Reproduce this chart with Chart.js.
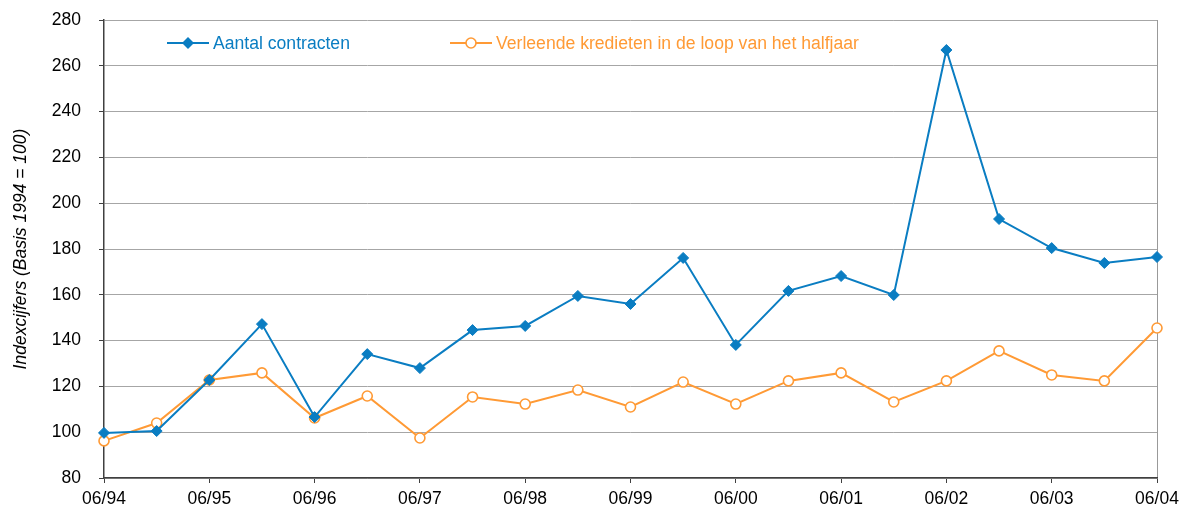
<!DOCTYPE html>
<html>
<head>
<meta charset="utf-8">
<script src="https://cdn.jsdelivr.net/npm/chart.js@4/dist/chart.umd.min.js"></script>
<style>
html,body{margin:0;padding:0;background:#fff;}
#wrap{width:1179px;height:513px;position:relative;}
</style>
</head>
<body>
<div id="wrap"><canvas id="c" width="1179" height="513"></canvas></div>
<script>
const categories = ["06/94","12/94","06/95","12/95","06/96","12/96","06/97","12/97","06/98","12/98","06/99","12/99","06/00","12/00","06/01","12/01","06/02","12/02","06/03","12/03","06/04"];
const contracten = [99.7,100.5,122.8,147.2,106.6,134.1,128.0,144.6,146.4,159.5,156.0,176.1,138.1,161.7,168.2,159.9,266.9,193.1,180.4,173.9,176.5];
const kredieten = [96.2,104.0,122.8,125.9,106.2,115.8,97.5,115.4,112.3,118.4,111.0,121.9,112.3,122.4,125.9,113.2,122.4,135.5,125.0,122.4,145.5];
const seriesNames = ["Aantal contracten","Verleende kredieten in de loop van het halfjaar"];
const yTitle = "Indexcijfers (Basis 1994 = 100)";

const BLUE = '#0A7DC2';
const ORANGE = '#FF9A35';
const FONT = '"Liberation Sans", Arial, sans-serif';

const legendPlugin = {
  id: 'customLegend',
  afterDraw(chart) {
    const ctx = chart.ctx;
    const items = [
      {x: 167, ds: chart.data.datasets[0]},
      {x: 450, ds: chart.data.datasets[1]}
    ];
    const y = 43;
    ctx.save();
    items.forEach(it => {
      const ds = it.ds;
      ctx.strokeStyle = ds.borderColor;
      ctx.lineWidth = 2;
      ctx.beginPath();
      ctx.moveTo(it.x, y);
      ctx.lineTo(it.x + 42, y);
      ctx.stroke();
      const cx = it.x + 21;
      if (ds.pointStyle === 'rectRot') {
        ctx.fillStyle = ds.borderColor;
        ctx.beginPath();
        ctx.moveTo(cx, y - 6); ctx.lineTo(cx + 6, y); ctx.lineTo(cx, y + 6); ctx.lineTo(cx - 6, y);
        ctx.closePath(); ctx.fill();
      } else {
        ctx.fillStyle = '#fff';
        ctx.lineWidth = 1.6;
        ctx.beginPath(); ctx.arc(cx, y, 5, 0, Math.PI * 2); ctx.fill(); ctx.stroke();
      }
      ctx.fillStyle = ds.borderColor;
      ctx.font = '17.6px ' + FONT;
      ctx.textBaseline = 'middle';
      ctx.textAlign = 'left';
      ctx.fillText(ds.label, it.x + 46, y + 1);
    });
    ctx.restore();
  }
};

new Chart(document.getElementById('c'), {
  type: 'line',
  data: {
    labels: categories,
    datasets: [
      {
        label: seriesNames[0],
        data: contracten,
        borderColor: BLUE,
        backgroundColor: BLUE,
        borderWidth: 2,
        pointStyle: 'rectRot',
        pointRadius: 5.5,
        pointBackgroundColor: BLUE,
        pointBorderColor: BLUE,
        pointBorderWidth: 1,
        tension: 0
      },
      {
        label: seriesNames[1],
        data: kredieten,
        borderColor: ORANGE,
        backgroundColor: ORANGE,
        borderWidth: 2,
        pointStyle: 'circle',
        pointRadius: 5,
        pointBackgroundColor: '#ffffff',
        pointBorderColor: ORANGE,
        pointBorderWidth: 1.6,
        tension: 0
      }
    ]
  },
  options: {
    responsive: false,
    animation: false,
    layout: {padding: {left: 0, right: 22, top: 20, bottom: 0}},
    plugins: {legend: {display: false}, tooltip: {enabled: false}},
    scales: {
      x: {
        type: 'category',
        offset: false,
        afterFit(s) { s.height = 35; s.paddingLeft = 0; s.paddingRight = 0; },
        grid: {
          drawOnChartArea: true,
          color: (c) => c.index === categories.length - 1 ? '#999999' : 'rgba(0,0,0,0)',
          tickColor: (c) => c.index % 2 === 0 ? '#404040' : 'rgba(0,0,0,0)',
          tickLength: 5,
          lineWidth: 1
        },
        border: {display: true, color: '#404040', width: 1.5},
        ticks: {
          autoSkip: false,
          maxRotation: 0,
          color: '#000',
          font: {family: FONT, size: 17.5},
          padding: 6,
          callback: function(v, i) { return i % 2 === 0 ? categories[i] : ''; }
        }
      },
      y: {
        min: 80,
        max: 280,
        afterFit(s) { s.width = 104; s.paddingTop = 0; s.paddingBottom = 0; },
        grid: {
          color: '#a6a6a6',
          tickColor: '#404040',
          tickLength: 5,
          lineWidth: 1
        },
        border: {display: true, color: '#404040', width: 1.5},
        ticks: {
          stepSize: 20,
          color: '#000',
          font: {family: FONT, size: 17.5},
          padding: 18
        },
        title: {
          display: true,
          text: yTitle,
          color: '#000',
          font: {family: FONT, size: 17.5, style: 'italic'},
          padding: {top: 11, bottom: 0}
        }
      }
    }
  },
  plugins: [legendPlugin]
});
</script>
</body>
</html>
